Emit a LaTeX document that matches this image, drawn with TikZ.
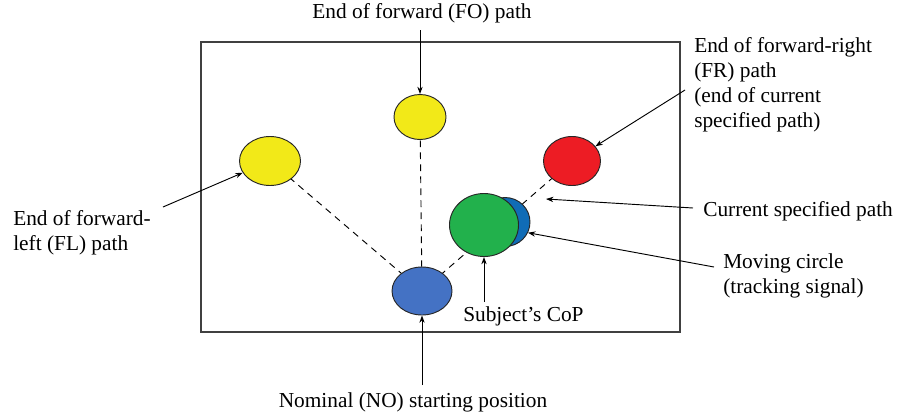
\documentclass[tikz,border=0pt]{standalone}
\usepackage{fontspec}
\setmainfont{Liberation Serif}
\usetikzlibrary{shapes.geometric,arrows.meta,backgrounds}
\definecolor{spotyellow}{RGB}{242,233,24}
\definecolor{spotred}{RGB}{237,28,36}
\definecolor{spotblue}{RGB}{68,114,196}
\definecolor{movblue}{RGB}{16,108,182}
\definecolor{copgreen}{RGB}{34,177,76}
\tikzset{
  spot/.style={ellipse, draw=black!85, line width=0.7pt, inner sep=0pt},
  lbl/.style={font=\fontsize{16}{18.75}\selectfont, inner sep=0pt, align=left},
  ptr/.style={-{Stealth[length=5.5pt,width=4pt]}, line width=0.7pt},
  track/.style={dash pattern=on 5pt off 4pt, line width=0.7pt}
}
\begin{document}
\begin{tikzpicture}[x=0.75pt,y=0.75pt]
            \useasboundingbox (0,0) rectangle (897,-419);
            \draw [line width=1.5pt, black!75] (201,-42) rectangle (680,-332);
            % path end points and start
            \node [spot, fill=spotyellow, minimum width=39pt, minimum height=33.75pt] (fo) at (420,-117) {};
            \node [spot, fill=spotyellow, minimum width=45.75pt, minimum height=36.75pt] (fl) at (270,-161) {};
            \node [spot, fill=spotred, minimum width=42.75pt, minimum height=36.75pt] (fr) at (572,-161) {};
            \node [spot, fill=spotblue, minimum width=45pt, minimum height=36pt] (no) at (422,-291) {};
            \node [spot, fill=movblue, minimum width=37.5pt, minimum height=36.75pt] (mov) at (505,-222) {};
            \node [spot, fill=copgreen, minimum width=51.75pt, minimum height=47.25pt] (cop) at (484,-225) {};
            \begin{scope}[on background layer]
                \draw [track] (no.center) -- (fr.center);
                \draw [track] (no.center) -- (fl.center);
                \draw [track] (no.center) -- (fo.center);
            \end{scope}
            % labels (base = last line)
            \node [lbl, anchor=base] (fotext) at (422,-18) {End of forward (FO) path};
            \node [lbl, anchor=base west] (frtext) at (694,-127) {End of forward-right\\(FR) path\\(end of current\\specified path)};
            \node [lbl, anchor=base west] (fltext) at (13,-250) {End of forward-\\left (FL) path};
            \node [lbl, anchor=base west] (curtext) at (703,-216) {Current specified path};
            \node [lbl, anchor=base west] (movtext) at (723,-293) {Moving circle\\(tracking signal)};
            \node [lbl, anchor=base west] (coptext) at (463,-321) {Subject’s CoP};
            \node [lbl, anchor=base] (notext) at (413,-407) {Nominal (NO) starting position};
            % pointers
            \coordinate (fotail) at (420,-30);
            \coordinate (frtail) at (685,-90);
            \coordinate (fltail) at (163,-207);
            \coordinate (curtail) at (693,-208);
            \coordinate (curtip) at (546,-199);
            \coordinate (movtail) at (714,-267);
            \coordinate (coptail) at (484,-302);
            \coordinate (notail) at (422,-385);
            \draw [ptr] (fotail) -- (fo);
            \draw [ptr] (frtail) -- (fr);
            \draw [ptr] (fltail) -- (fl);
            \draw [ptr] (curtail) -- (curtip);
            \draw [ptr] (movtail) -- (mov.-25);
            \draw [ptr] (coptail) -- (cop.south);
            \draw [ptr] (notail) -- (no);
\end{tikzpicture}
\end{document}
